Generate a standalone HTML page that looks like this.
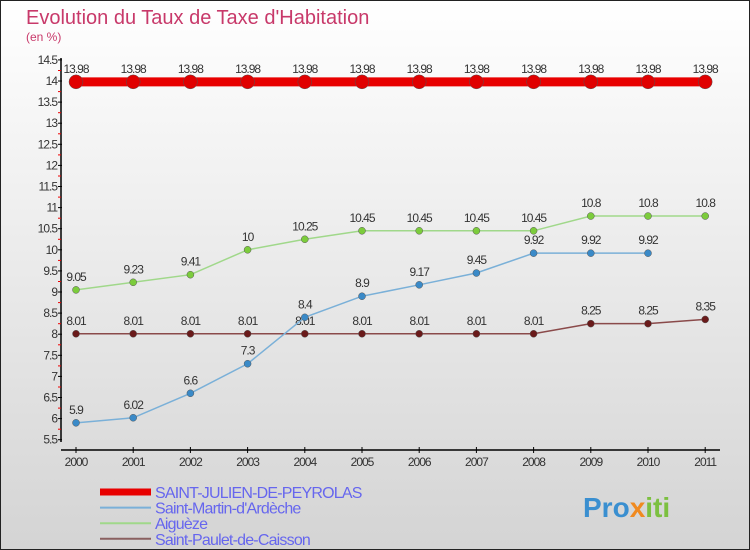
<!DOCTYPE html>
<html><head><meta charset="utf-8"><style>
body{margin:0}
svg{display:block;font-family:"Liberation Sans",sans-serif}
</style></head><body>
<svg width="750" height="550" viewBox="0 0 750 550">
<defs><linearGradient id="bg" x1="0" y1="0" x2="0" y2="1"><stop offset="0" stop-color="#ffffff"/><stop offset="1" stop-color="#d4d4d4"/></linearGradient></defs>
<rect x="0.5" y="0.5" width="749" height="549" fill="url(#bg)" stroke="#222"/>
<text x="26" y="24" font-size="20" fill="#c8396a">Evolution du Taux de Taxe d'Habitation</text>
<text x="26" y="41" font-size="12" fill="#c8396a">(en %)</text>
<g id="grid"></g><g id="axes"></g><g id="series"></g><g id="legend"></g>
<text x="583" y="517" font-size="28" font-weight="bold" fill="#3a8fd0">Pro<tspan fill="#f08a20">x</tspan><tspan fill="#7cc040">iti</tspan></text>
</svg>
<script>
const years=[2000,2001,2002,2003,2004,2005,2006,2007,2008,2009,2010,2011];
const sJulien=[13.98,13.98,13.98,13.98,13.98,13.98,13.98,13.98,13.98,13.98,13.98,13.98];
const sMartin=[5.9,6.02,6.6,7.3,8.4,8.9,9.17,9.45,9.92,9.92,9.92,null];
const sAigueze=[9.05,9.23,9.41,10,10.25,10.45,10.45,10.45,10.45,10.8,10.8,10.8];
const sPaulet=[8.01,8.01,8.01,8.01,8.01,8.01,8.01,8.01,8.01,8.25,8.25,8.35];
const yTicks=[5.5,6,6.5,7,7.5,8,8.5,9,9.5,10,10.5,11,11.5,12,12.5,13,13.5,14,14.5];
const names=["SAINT-JULIEN-DE-PEYROLAS","Saint-Martin-d'Ardèche","Aiguèze","Saint-Paulet-de-Caisson"];
const NS="http://www.w3.org/2000/svg";
const X=i=>76+i*57.2;
const Y=v=>81+(14-v)*42.2;
function mk(t,a,p){const e=document.createElementNS(NS,t);for(const k in a)e.setAttribute(k,a[k]);p.appendChild(e);return e;}
const grid=document.getElementById('grid'),axes=document.getElementById('axes'),ser=document.getElementById('series'),leg=document.getElementById('legend');
// axes
let a=mk('line',{x1:61,y1:58,x2:61,y2:442,stroke:'#000','stroke-width':1.5},axes);


a=mk('line',{x1:61,y1:450,x2:720,y2:450,stroke:'#000','stroke-width':1.5},axes);


yTicks.forEach((v,i)=>{
 const y=Y(v);
 mk('line',{x1:58,y1:y,x2:62,y2:y,stroke:'#000'},axes);
 if(i<yTicks.length-1)mk('line',{x1:58,y1:y-10.5,x2:61,y2:y-10.5,stroke:'#e00'},axes);
 const t=mk('text',{x:57,y:y+4,'font-size':12,'text-anchor':'end',fill:'#333','letter-spacing':'-1'},axes);
 t.textContent=v;
 
 
});
years.forEach((yr,i)=>{
 const x=X(i);
 mk('line',{x1:x,y1:447,x2:x,y2:453,stroke:'#000'},axes);
 const t=mk('text',{x:x,y:466,'font-size':12,'text-anchor':'middle',fill:'#333','letter-spacing':'-1'},axes);
 t.textContent=yr;
 
 
});
function draw(data,color,dot,w,r,name){
 const g=mk('g',{},ser);
 
 
 let d='';data.forEach((v,i)=>{if(v!==null)d+=(d?'L':'M')+X(i)+' '+Y(v);});
 mk('path',{d:d,fill:'none',stroke:color,'stroke-width':w},g);
 data.forEach((v,i)=>{if(v===null)return;
  const c=mk('circle',{cx:X(i),cy:Y(v),r:r,fill:dot,stroke:'#555','stroke-width':0.5},g);
  
  
  const t=mk('text',{x:X(i),y:Y(v)-9,'font-size':12,'text-anchor':'middle',fill:'#333','letter-spacing':'-1'},g);
  t.textContent=v;
 });
}
draw(sPaulet,'#8a4a4a','#6a1a1a',1.5,3.5,'series-saint-paulet');
draw(sAigueze,'#a0d88a','#7ccc3c',1.5,3.5,'series-aigueze');
draw(sMartin,'#7ab0d8','#3a8ac8',1.5,3.5,'series-saint-martin');
draw(sJulien,'#e80000','#e00000',9,7,'series-saint-julien');
const lc=['#e80000','#7ab0d8','#a0d88a','#8a6060'],lw=[7,2,2,2];
names.forEach((n,i)=>{
 const y=492+i*15.6;
 const g=mk('g',{},leg);
 
 
 mk('line',{x1:100,y1:y,x2:151,y2:y,stroke:lc[i],'stroke-width':lw[i]},g);
 const t=mk('text',{x:155,y:y+6,'font-size':16,fill:'#6666ee','letter-spacing':'-0.8'},g);
 t.textContent=n;
});
</script>
</body></html>
